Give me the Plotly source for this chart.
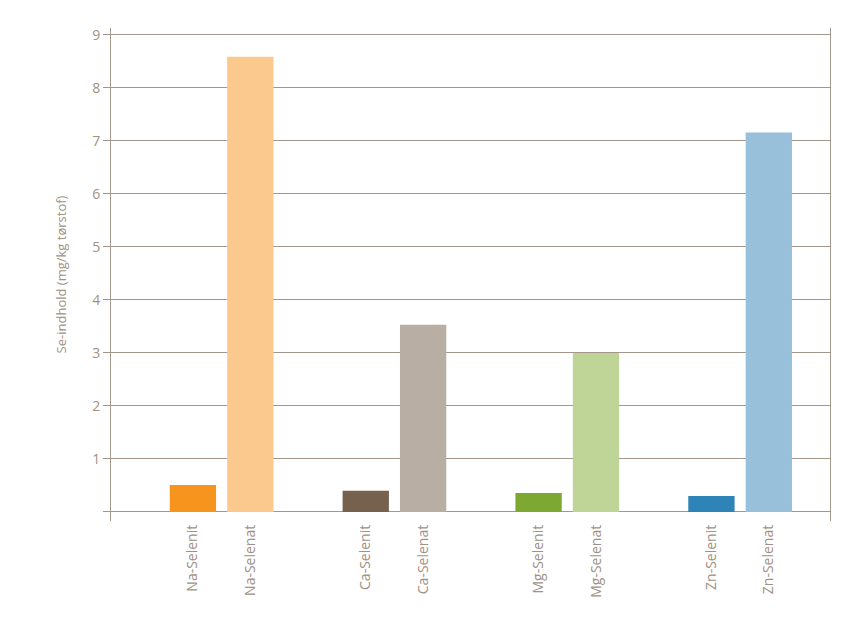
import plotly.graph_objects as go

groups = ["Na", "Ca", "Mg", "Zn"]
labels = ["Na-Selenit", "Na-Selenat", "Ca-Selenit", "Ca-Selenat",
          "Mg-Selenit", "Mg-Selenat", "Zn-Selenit", "Zn-Selenat"]
values = [0.51, 8.59, 0.40, 3.53, 0.36, 3.00, 0.30, 7.16]
colors = ["#F7941D", "#FBC98E", "#76614F", "#B9AEA4",
          "#7DA832", "#BFD598", "#2E83B7", "#98C0DB"]
y_ticks = [0, 1, 2, 3, 4, 5, 6, 7, 8, 9]
y_ticktext = ["", "1", "2", "3", "4", "5", "6", "7", "8", "9"]

offset = 0.166
xpos = []
for gi in range(len(groups)):
    xpos.append(gi - offset)
    xpos.append(gi + offset)

txt = "#A09184"
line = "#A3968B"

fig = go.Figure(go.Bar(x=xpos, y=values, marker=dict(color=colors, line=dict(width=0)),
                       width=0.268, hoverinfo="skip"))

fig.update_layout(
    width=865, height=623,
    margin=dict(l=103, r=43, t=20, b=110, autoexpand=False),
    paper_bgcolor="white", plot_bgcolor="white",
    showlegend=False,
    font=dict(family="Open Sans", color=txt),
    xaxis=dict(range=[-0.64, 3.52], tickmode="array", tickvals=xpos, ticktext=labels,
               tickangle=-90, showgrid=False, zeroline=False, showline=False, automargin=False,
               ticks="", tickfont=dict(size=14, color=txt), ticklabelstandoff=0),
    yaxis=dict(range=[-0.17, 9.13], tickmode="array", tickvals=y_ticks, ticktext=y_ticktext,
               showgrid=True, gridcolor=line, gridwidth=1, zeroline=False, automargin=False,
               showline=True, linecolor=line, linewidth=1, mirror=True,
               ticks="outside", ticklen=7, tickcolor=line, tickwidth=1,
               tickfont=dict(size=14, color=txt),
               title=dict(text="Se-indhold (mg/kg tørstof)", font=dict(size=13, color=txt), standoff=22)),
)

fig.write_html("out.html")
